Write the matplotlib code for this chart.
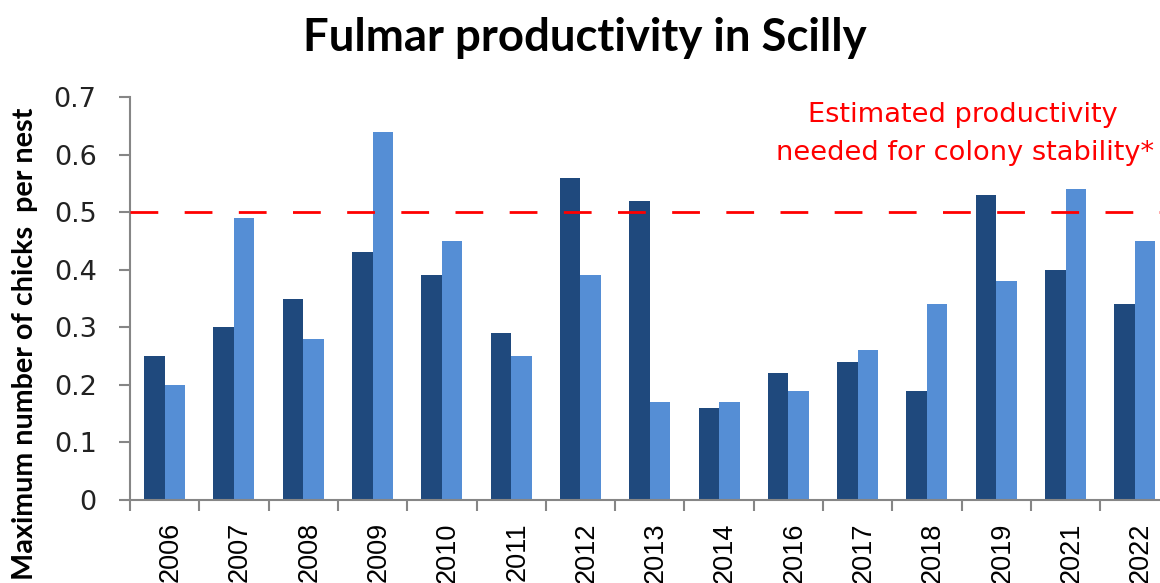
import matplotlib
matplotlib.use("Agg")
import matplotlib.pyplot as plt
import matplotlib.transforms as mtransforms
import numpy as np

years = ["2006", "2007", "2008", "2009", "2010", "2011", "2012", "2013",
         "2014", "2016", "2017", "2018", "2019", "2021", "2022"]
series_dark = [0.25, 0.30, 0.35, 0.43, 0.39, 0.29, 0.56, 0.52,
               0.16, 0.22, 0.24, 0.19, 0.53, 0.40, 0.34]
series_light = [0.20, 0.49, 0.28, 0.64, 0.45, 0.25, 0.39, 0.17,
                0.17, 0.19, 0.26, 0.34, 0.38, 0.54, 0.45]
threshold = 0.5
yticks = [0, 0.1, 0.2, 0.3, 0.4, 0.5, 0.6, 0.7]
ytick_labels = ["0", "0.1", "0.2", "0.3", "0.4", "0.5", "0.6", "0.7"]

W, H = 1160, 583
fig = plt.figure(figsize=(W / 100, H / 100), dpi=100)
ax_left, ax_right, ax_top, ax_bottom = 130, 1169.5, 97, 500
ax = fig.add_axes([ax_left / W, 1 - ax_bottom / H, (ax_right - ax_left) / W, (ax_bottom - ax_top) / H])

x = np.arange(len(years))
bw = 0.296
dark = "#1F497D"
light = "#558ED5"
ax.bar(x - bw / 2, series_dark, width=bw, color=dark, zorder=2)
ax.bar(x + bw / 2, series_light, width=bw, color=light, zorder=2)

ax.axhline(threshold, color="#FF0000", lw=2, dashes=(10, 9.5), zorder=3)

ax.set_xlim(-0.5, len(years) - 0.5)
ax.set_ylim(0, 0.7)

grey = "#868686"
for s in ["top", "right"]:
    ax.spines[s].set_visible(False)
for s in ["left", "bottom"]:
    ax.spines[s].set_color(grey)
    ax.spines[s].set_linewidth(1.5)

ax.set_yticks(yticks)
ax.set_yticklabels(ytick_labels, fontsize=19.5, family="DejaVu Sans", color="#222222")
ax.tick_params(axis="y", length=8, width=1.5, color=grey, pad=16)

ax.set_xticks(np.arange(len(years) + 1) - 0.5, minor=False)
ax.set_xticklabels([""] * (len(years) + 1))
ax.tick_params(axis="x", which="major", length=8, width=1.5, color=grey)
ax.set_xticks(x, minor=True)
ax.set_xticklabels(years, minor=True, rotation=90, fontsize=19.5,
                   family="Liberation Sans", va="top", ha="center")
ax.tick_params(axis="x", which="minor", length=0, pad=16)
shift = mtransforms.ScaledTranslation(6 / 100, 0, fig.dpi_scale_trans)
for lab in ax.get_xticklabels(minor=True):
    lab.set_transform(lab.get_transform() + shift)

fig.text(585 / W, 1 - 38 / H, "Fulmar productivity in Scilly", ha="center", va="center",
         fontsize=32.8, fontweight="bold", family="Lato")

fig.text(25 / W, 1 - 108 / H, "Maximum number of chicks  per nest", rotation=90,
         ha="center", va="top", fontsize=20.7, fontweight="bold", family="Lato")

fig.text(963 / W, 1 - 115 / H, "Estimated productivity", ha="center", va="center",
         fontsize=19.6, color="#FF0000", family="DejaVu Sans")
fig.text(965 / W, 1 - 153 / H, "needed for colony stability*", ha="center", va="center",
         fontsize=19.6, color="#FF0000", family="DejaVu Sans")

fig.savefig("out.png", dpi=100)
